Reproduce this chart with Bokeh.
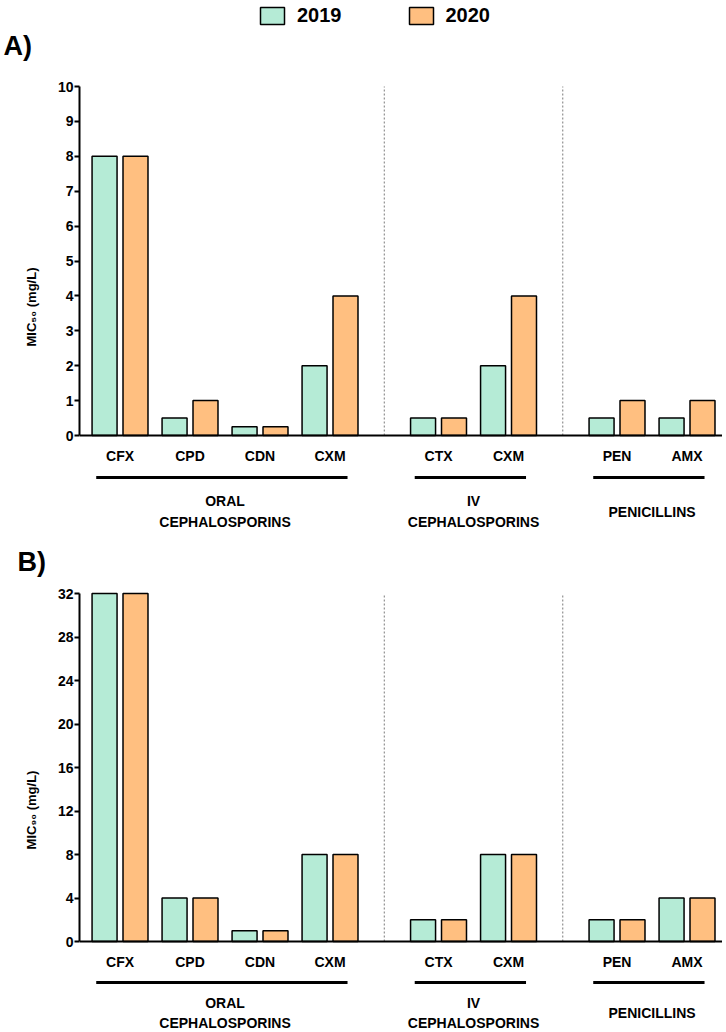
from bokeh.plotting import figure
from bokeh.models import Range1d, FixedTicker, Legend, LegendItem, Title
from bokeh.layouts import column
from bokeh.embed import file_html
from bokeh.resources import INLINE
from bokeh.core.properties import value

# ---------------- data ----------------
drugs = ["CFX", "CPD", "CDN", "CXM", "CTX", "CXM", "PEN", "AMX"]
drug_group = [0, 0, 0, 0, 1, 1, 2, 2]
groups = ["ORAL\nCEPHALOSPORINS", "IV\nCEPHALOSPORINS", "PENICILLINS"]
years = ["2019", "2020"]
mic50_2019 = [8, 0.5, 0.25, 2, 0.5, 2, 0.5, 0.5]
mic50_2020 = [8, 1, 0.25, 4, 0.5, 4, 1, 1]
mic90_2019 = [32, 4, 1, 8, 2, 8, 2, 4]
mic90_2020 = [32, 4, 1, 8, 2, 8, 2, 4]
mic50_ticks = [0, 1, 2, 3, 4, 5, 6, 7, 8, 9, 10]
mic90_ticks = [0, 4, 8, 12, 16, 20, 24, 28, 32]
panel_letters = ["A)", "B)"]

# ---------------- layout / style ----------------
FONT = "Liberation Sans"
C2019 = "#B5EBD6"
C2020 = "#FFBF80"
GROUP_GAP = 0.55
DODGE = 0.221
BAR_W = 0.357
LEFT = 79
FRAME_W = 643
FIG_W = LEFT + FRAME_W
X0 = -0.579
X1 = X0 + FRAME_W / 70.0

pos = [i + GROUP_GAP * g for i, g in enumerate(drug_group)]
ng = len(groups)
g_first = [min(p for p, g in zip(pos, drug_group) if g == k) for k in range(ng)]
g_last = [max(p for p, g in zip(pos, drug_group) if g == k) for k in range(ng)]
g_center = [(a + b) / 2 for a, b in zip(g_first, g_last)]
seps = [(g_last[k] + g_first[k + 1]) / 2 for k in range(ng - 1)]


def bar_style():
    return dict(line_color="black", line_width=1.5)


def letter_title(letter, letter_x, standoff):
    return Title(text=letter, align="left", text_font=FONT,
                 text_font_style="bold", text_font_size="27px",
                 text_color="black", offset=letter_x - LEFT, standoff=standoff)


def strip(height):
    p = figure(width=FIG_W, height=height, x_range=Range1d(0, 1),
               y_range=Range1d(0, 1), output_backend="svg",
               toolbar_location=None, min_border=0, outline_line_color=None,
               title=None, x_axis_location=None, y_axis_location=None)
    p.grid.visible = False
    return p


# ---------------- header strip: legend ----------------
pL = strip(28)
# legend-only swatches (zero-size, never visible in the strip)
l19 = pL.vbar(x=[0.5], top=[0.5], bottom=[0.5], width=0, fill_color=C2019,
              **bar_style())
l20 = pL.vbar(x=[0.5], top=[0.5], bottom=[0.5], width=0, fill_color=C2020,
              **bar_style())
leg = Legend(items=[LegendItem(label=years[0], renderers=[l19]),
                    LegendItem(label=years[1], renderers=[l20])],
             orientation="horizontal", location=(178, 1),
             glyph_width=30, glyph_height=21, label_standoff=10,
             spacing=64, padding=0, margin=0,
             border_line_color=None, background_fill_alpha=0,
             label_text_font=FONT, label_text_font_style="bold",
             label_text_font_size="20px", label_text_color="black")
pL.add_layout(leg, "center")

# ---------------- strip holding the "A)" heading ----------------
pT = strip(52)
pT.add_layout(letter_title(panel_letters[0], 3, 0), "above")


def make_panel(v19, v20, ticks, ylabel, ymin, ymax, frame_h, off,
               letter=None, letter_x=0, title_standoff=0, line_h=1.29):
    top = ticks[-1]
    p = figure(frame_width=FRAME_W, frame_height=frame_h,
               x_range=Range1d(X0, X1), y_range=Range1d(ymin, ymax),
               output_backend="svg", toolbar_location=None, title=None,
               min_border_left=LEFT, min_border_right=0, min_border_top=0,
               min_border_bottom=0, outline_line_color=None)
    p.xaxis.visible = False
    p.xgrid.visible = False
    p.ygrid.visible = False
    pxu = frame_h / (ymax - ymin)

    ax = p.yaxis[0]
    ax.bounds = (0, top)
    ax.ticker = FixedTicker(ticks=ticks)
    ax.axis_line_width = 2
    ax.major_tick_line_width = 2
    ax.major_tick_out = 5
    ax.major_tick_in = 0
    ax.minor_tick_out = 0
    ax.minor_tick_in = 0
    ax.major_label_standoff = 1
    ax.major_label_text_font = FONT
    ax.major_label_text_font_style = "bold"
    ax.major_label_text_font_size = "14px"
    ax.major_label_text_color = "black"
    ax.axis_label = ylabel
    ax.axis_label_text_font = FONT
    ax.axis_label_text_font_style = "bold"
    ax.axis_label_text_font_size = "13px"
    ax.axis_label_text_color = "black"
    ax.axis_label_standoff = 16

    # separators
    p.segment(x0=seps, y0=[0] * len(seps), x1=seps, y1=[top] * len(seps),
              line_color="#7a7a7a", line_width=1, line_dash="2 2")
    # bars
    p.vbar(x=[x - DODGE for x in pos], top=v19, width=BAR_W, bottom=0,
           fill_color=C2019, **bar_style())
    p.vbar(x=[x + DODGE for x in pos], top=v20, width=BAR_W, bottom=0,
           fill_color=C2020, **bar_style())
    # baseline
    p.segment(x0=[X0], y0=[0], x1=[X1], y1=[0], line_color="black", line_width=2)
    # category labels
    p.text(x=pos, y=[0] * len(pos), text=drugs, y_offset=off[0],
           text_align="center", text_baseline="middle",
           text_font=value(FONT), text_font_style="bold", text_font_size="14px",
           text_color="black")
    # group underlines
    yl = -off[1] / pxu
    p.segment(x0=[a - 0.34 for a in g_first], x1=[b + 0.25 for b in g_last],
              y0=[yl] * ng, y1=[yl] * ng, line_color="black", line_width=3)
    # group labels
    p.text(x=g_center, y=[0] * ng, text=groups, y_offset=off[2],
           text_align="center", text_baseline="middle", text_line_height=line_h,
           text_font=value(FONT), text_font_style="bold", text_font_size="14px",
           text_color="black")

    if letter is not None:
        p.add_layout(letter_title(letter, letter_x, title_standoff), "above")
    return p


pA = make_panel(mic50_2019, mic50_2020, mic50_ticks, "MIC\u2085\u2080 (mg/L)",
                -98 / 34.9, 10 + 6 / 34.9, 453, (20, 42, 76))
pB = make_panel(mic90_2019, mic90_2020, mic90_ticks, "MIC\u2089\u2080 (mg/L)",
                -91 / 10.875, 32 + 6 / 10.875, 445, (20, 41, 71),
                letter=panel_letters[1], letter_x=17, title_standoff=22,
                line_h=1.25)

layout = column(pL, pT, pA, pB, spacing=0)
open("out.html", "w").write(file_html(layout, INLINE))
